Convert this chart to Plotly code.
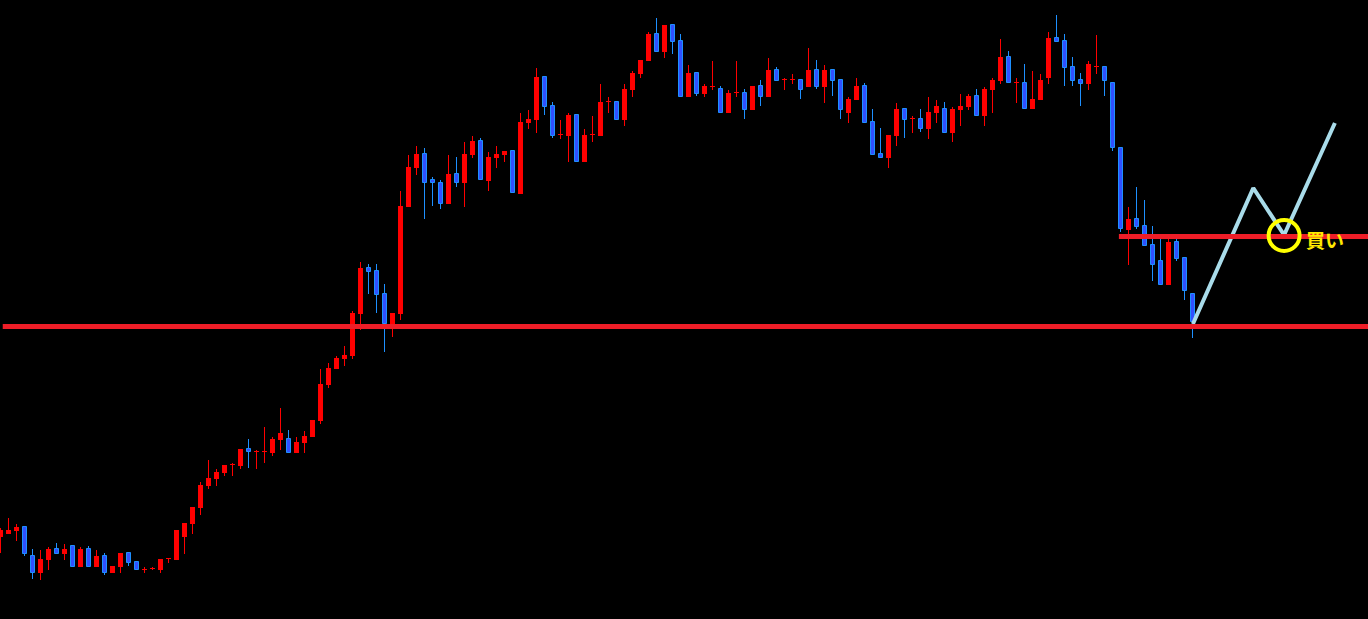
import plotly.graph_objects as go

# OHLC values (price units: 1 unit = 1 px)
opens = [82, 85, 88, 92, 63, 46, 59, 70, 65, 73, 52, 70, 52, 63, 46, 52, 66, 57, 49, 50,
         49, 60, 59, 82, 95, 111, 133, 140, 146, 154, 153, 170, 167, 167, 166, 179, 180, 166, 176, 182,
         198, 234, 250, 260, 263, 305, 351, 348, 325, 293, 305, 412, 451, 465, 439, 436, 415, 445, 436, 464,
         478, 438, 461, 464, 468, 425, 496, 499, 542, 513, 484, 483, 504, 457, 484, 483, 517, 517, 499, 529,
         545, 558, 585, 567, 594, 578, 522, 546, 525, 532, 530, 506, 526, 526, 509, 533, 522, 549, 539, 539,
         539, 532, 549, 532, 549, 539, 506, 519, 533, 497, 465, 461, 483, 510, 500, 500, 490, 506, 510, 486,
         509, 512, 523, 503, 529, 538, 562, 536, 536, 510, 519, 541, 581, 578, 552, 539, 535, 552, 552, 536,
         471, 389, 400, 393, 374, 358, 334, 377, 361, 325]
highs = [91, 101, 95, 92, 70, 69, 72, 76, 75, 73, 72, 73, 69, 66, 53, 66, 66, 57, 52, 52,
         60, 60, 89, 96, 112, 137, 159, 150, 154, 156, 170, 180, 169, 192, 182, 211, 189, 182, 188, 199,
         250, 256, 263, 273, 308, 357, 355, 355, 335, 306, 428, 464, 473, 471, 442, 439, 464, 462, 477, 483,
         481, 467, 473, 468, 468, 506, 509, 551, 542, 517, 499, 506, 504, 490, 503, 535, 522, 517, 535, 548,
         559, 587, 601, 594, 594, 585, 554, 546, 535, 558, 533, 529, 558, 530, 533, 539, 561, 552, 541, 545,
         539, 571, 559, 554, 549, 539, 522, 541, 536, 510, 491, 484, 516, 510, 503, 510, 522, 519, 517, 512,
         525, 525, 530, 532, 541, 580, 568, 541, 555, 548, 545, 587, 604, 585, 562, 546, 558, 584, 552, 536,
         471, 412, 432, 419, 393, 380, 382, 382, 361, 325]
lows = [66, 85, 78, 63, 40, 39, 49, 65, 59, 52, 52, 52, 52, 44, 46, 46, 53, 49, 46, 49,
        46, 56, 59, 65, 85, 104, 130, 133, 143, 143, 150, 151, 150, 156, 163, 169, 166, 166, 166, 182,
        195, 231, 250, 253, 260, 289, 325, 306, 267, 282, 299, 412, 444, 400, 413, 410, 415, 432, 412, 461,
        439, 428, 451, 457, 426, 425, 490, 486, 504, 481, 480, 457, 457, 457, 477, 483, 506, 499, 493, 522,
        541, 558, 567, 561, 565, 522, 522, 523, 522, 529, 506, 506, 522, 500, 509, 513, 522, 538, 529, 535,
        520, 532, 530, 516, 523, 500, 496, 519, 496, 464, 461, 451, 473, 481, 486, 487, 480, 496, 486, 477,
        493, 509, 503, 493, 506, 535, 536, 516, 510, 510, 519, 535, 577, 533, 533, 513, 529, 545, 523, 468,
        387, 354, 390, 373, 338, 334, 334, 358, 319, 281]
closes = [89, 89, 92, 65, 46, 60, 70, 65, 70, 52, 70, 52, 63, 46, 53, 66, 56, 49, 49, 50,
          60, 60, 89, 96, 112, 134, 141, 147, 154, 154, 170, 167, 167, 167, 180, 186, 166, 177, 183, 199,
          235, 251, 261, 264, 306, 351, 347, 324, 295, 306, 413, 452, 465, 436, 436, 415, 445, 436, 465, 478,
          439, 462, 465, 468, 426, 497, 500, 542, 512, 483, 484, 504, 457, 484, 484, 517, 517, 499, 530, 546,
          559, 585, 567, 594, 577, 522, 546, 525, 533, 532, 506, 526, 526, 509, 533, 522, 549, 538, 539, 539,
          529, 549, 532, 549, 538, 509, 520, 533, 496, 464, 461, 484, 510, 499, 500, 490, 507, 513, 486, 510,
          513, 523, 503, 530, 539, 562, 536, 536, 510, 520, 539, 581, 577, 551, 538, 535, 555, 552, 538, 471,
          390, 400, 392, 373, 354, 334, 377, 360, 328, 297]

# Horizontal levels and the projected zig-zag (x = bar index, y = price)
support_level = 292.5
resistance_level = 382.5
resistance_start = 139.8
projection_x = [149.05, 156.6, 160.45, 166.8]
projection_y = [295, 431, 384, 496]
buy_point = (160.45, 383.5)
buy_label = "買い"

assert len(opens) == len(highs) == len(lows) == len(closes) == 150

RED = "#FF0000"
BLUE_FILL = "#3050FF"
BLUE_EDGE = "#1E90FF"

idx = list(range(len(opens)))
up = [c >= o for o, c in zip(opens, closes)]

wick_base = lows
wick_len = [h - l for h, l in zip(highs, lows)]
wick_col = [RED if u else BLUE_EDGE for u in up]

body_base = [min(o, c) for o, c in zip(opens, closes)]
body_len = [max(abs(c - o), 1) for o, c in zip(opens, closes)]
body_col = [RED if u else BLUE_FILL for u in up]
body_edge = [RED if u else BLUE_EDGE for u in up]
body_lw = [0 if u else 1 for u in up]
body_w = [0.625 if u else 0.5 for u in up]

fig = go.Figure()
fig.add_trace(go.Bar(x=idx, y=wick_len, base=wick_base, width=0.125,
                     marker=dict(color=wick_col, line=dict(width=0)),
                     hoverinfo="skip", showlegend=False))
fig.add_trace(go.Bar(x=idx, y=body_len, base=body_base, width=body_w,
                     marker=dict(color=body_col, line=dict(color=body_edge, width=body_lw)),
                     hoverinfo="skip", showlegend=False))

fig.add_trace(go.Scatter(x=projection_x, y=projection_y, mode="lines",
                         line=dict(color="#A9DCEA", width=4), hoverinfo="skip", showlegend=False))

fig.add_shape(type="line", xref="paper", x0=0.002, x1=1, yref="y",
              y0=support_level, y1=support_level, line=dict(color="#EE1D27", width=5))
fig.add_shape(type="line", xref="x", x0=resistance_start, x1=175, yref="y",
              y0=resistance_level, y1=resistance_level, line=dict(color="#EE1D27", width=5))
fig.add_shape(type="circle", xref="x", yref="y", xsizemode="pixel", ysizemode="pixel",
              xanchor=buy_point[0], yanchor=buy_point[1], x0=-15.5, x1=15.5, y0=-15.5, y1=15.5,
              line=dict(color="#FFFF00", width=4))

fig.add_annotation(x=165.6, y=380, xref="x", yref="y", text="<b>" + buy_label + "</b>",
                   showarrow=False, font=dict(family="Noto Sans CJK JP", size=19, color="#FFE800"))

fig.update_layout(
    width=1368, height=619,
    margin=dict(l=0, r=0, t=0, b=0),
    paper_bgcolor="black", plot_bgcolor="black",
    barmode="overlay", bargap=0,
    xaxis=dict(range=[-0.0625, 170.9375], visible=False, showgrid=False, zeroline=False),
    yaxis=dict(range=[0, 619], visible=False, showgrid=False, zeroline=False),
    showlegend=False,
)

fig.write_html("out.html", config={"displayModeBar": False},
               post_script="document.body.style.margin='0';document.body.style.background='black';")
